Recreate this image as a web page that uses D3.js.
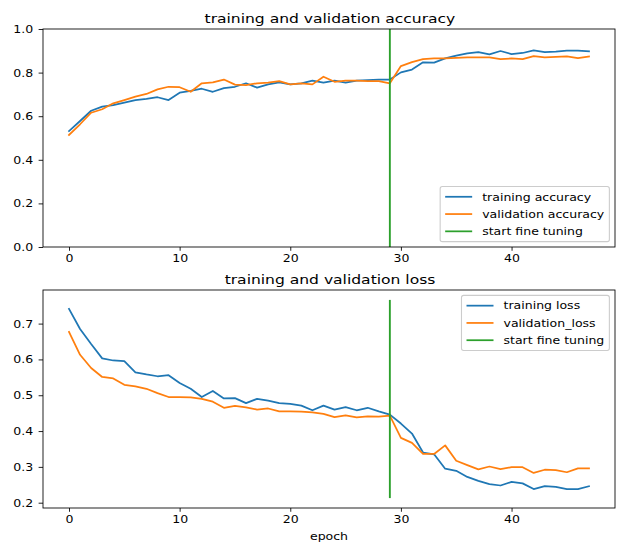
<!DOCTYPE html>
<html>
<head>
<meta charset="utf-8">
<script src="https://cdn.jsdelivr.net/npm/d3@7"></script>
<style>
  html, body { margin: 0; padding: 0; background: #fff; }
  svg { display: block; font-family: "DejaVu Sans", sans-serif; }
  svg text { transform-box: fill-box; }
  .sx-c { transform-origin: center; transform: scaleX(1.16); }
  .sx-r { transform-origin: right center; transform: scaleX(1.16); }
  .sx-l { transform-origin: left center; transform: scaleX(1.16); }
  .sx-t { transform-origin: center; transform: scaleX(1.2); }
</style>
</head>
<body>
<svg id="chart" width="619" height="544"></svg>
<script>
// ---------------- data ----------------
const epochs = d3.range(0, 48);
const accuracy = [0.532, 0.578, 0.625, 0.644, 0.651, 0.662, 0.674, 0.679, 0.687, 0.674,
  0.708, 0.716, 0.726, 0.712, 0.729, 0.735, 0.751, 0.731, 0.746, 0.755,
  0.746, 0.751, 0.763, 0.754, 0.763, 0.754, 0.763, 0.765, 0.768, 0.768,
  0.801, 0.814, 0.847, 0.846, 0.865, 0.878, 0.888, 0.894, 0.884, 0.899,
  0.885, 0.890, 0.902, 0.894, 0.896, 0.901, 0.901, 0.898];
const valAccuracy = [0.514, 0.563, 0.616, 0.632, 0.659, 0.674, 0.690, 0.702, 0.723, 0.735,
  0.733, 0.712, 0.751, 0.755, 0.768, 0.745, 0.743, 0.751, 0.754, 0.761,
  0.746, 0.751, 0.746, 0.781, 0.758, 0.763, 0.763, 0.761, 0.761, 0.751,
  0.830, 0.848, 0.862, 0.865, 0.865, 0.868, 0.870, 0.870, 0.870, 0.862,
  0.865, 0.862, 0.876, 0.870, 0.872, 0.874, 0.866, 0.874];
const loss = [0.741, 0.685, 0.643, 0.603, 0.597, 0.595, 0.564, 0.558, 0.553, 0.556,
  0.534, 0.518, 0.495, 0.512, 0.491, 0.492, 0.478, 0.490, 0.485, 0.478,
  0.476, 0.471, 0.458, 0.471, 0.460, 0.467, 0.458, 0.465, 0.455, 0.446,
  0.421, 0.393, 0.340, 0.335, 0.295, 0.289, 0.272, 0.261, 0.252, 0.248,
  0.258, 0.254, 0.238, 0.246, 0.244, 0.238, 0.238, 0.246];
const valLoss = [0.677, 0.613, 0.576, 0.551, 0.547, 0.529, 0.525, 0.518, 0.506, 0.495,
  0.495, 0.494, 0.490, 0.482, 0.465, 0.470, 0.466, 0.460, 0.463, 0.455,
  0.455, 0.454, 0.452, 0.448, 0.439, 0.444, 0.438, 0.441, 0.440, 0.443,
  0.381, 0.367, 0.336, 0.336, 0.360, 0.317, 0.305, 0.293, 0.301, 0.294,
  0.299, 0.299, 0.283, 0.292, 0.291, 0.285, 0.296, 0.296];
const fineTuneEpoch = 29;
const xTicks = [0, 10, 20, 30, 40];
const accTicks = [0.0, 0.2, 0.4, 0.6, 0.8, 1.0];
const lossTicks = [0.2, 0.3, 0.4, 0.5, 0.6, 0.7];
const accLabels = ["training accuracy", "validation accuracy", "start fine tuning"];
const lossLabels = ["training loss", "validation_loss", "start fine tuning"];
const titles = ["training and validation accuracy", "training and validation loss"];
const xLabel = "epoch";

// ---------------- layout ----------------
const C = { blue: "#1f77b4", orange: "#ff7f0e", green: "#2ca02c" };
const S = 1.08;             // px per point (vertical)
const SX = 1.16;            // horizontal stretch of the picture
const FS = 10 * S;          // base font
const LW = 1.75;            // data line width
const svg = d3.select("#chart");
const L = 43, R = 615;
const panels = [{ top: 29, bottom: 247 }, { top: 290, bottom: 508 }];

function margin(ext) { const d = (ext[1] - ext[0]) * 0.05; return [ext[0] - d, ext[1] + d]; }

const x = d3.scaleLinear().domain(margin(d3.extent(epochs))).range([L, R]);

const lossLine = margin(d3.extent(loss.concat(valLoss)));
const lossDomain = margin(lossLine);

const specs = [
  { p: panels[0], domain: [0, 1], vline: [0, 1], ticks: accTicks, fmt: d3.format(".1f"),
    series: [accuracy, valAccuracy], labels: accLabels, title: titles[0], legend: "lower right" },
  { p: panels[1], domain: lossDomain, vline: lossLine, ticks: lossTicks, fmt: d3.format(".1f"),
    series: [loss, valLoss], labels: lossLabels, title: titles[1], legend: "upper right" }
];

specs.forEach((sp, k) => {
  const y = d3.scaleLinear().domain(sp.domain).range([sp.p.bottom, sp.p.top]);
  const g = svg.append("g");

  const cid = "clip" + k;
  svg.append("clipPath").attr("id", cid).append("rect")
    .attr("x", L).attr("y", sp.p.top).attr("width", R - L).attr("height", sp.p.bottom - sp.p.top);

  const plot = g.append("g").attr("clip-path", `url(#${cid})`);
  const line = d3.line().x((d, i) => x(epochs[i])).y(d => y(d));
  [C.blue, C.orange].forEach((col, i) => {
    plot.append("path").datum(sp.series[i]).attr("d", line)
      .attr("fill", "none").attr("stroke", col).attr("stroke-width", LW)
      .attr("stroke-linejoin", "round").attr("stroke-linecap", "square");
  });
  plot.append("line")
    .attr("x1", x(fineTuneEpoch)).attr("x2", x(fineTuneEpoch))
    .attr("y1", y(sp.vline[0])).attr("y2", y(sp.vline[1]))
    .attr("stroke", C.green).attr("stroke-width", 1.5 * S * SX);

  const xa = g.append("g").attr("transform", `translate(0,${sp.p.bottom})`)
    .call(d3.axisBottom(x).tickValues(xTicks).tickFormat(d3.format("d")).tickSizeOuter(0).tickSize(3.5 * S).tickPadding(3.5 * S));
  const ya = g.append("g").attr("transform", `translate(${L},0)`)
    .call(d3.axisLeft(y).tickValues(sp.ticks).tickFormat(sp.fmt).tickSizeOuter(0).tickSize(3.5 * S * SX).tickPadding(3.5 * S * SX + 1));
  [xa, ya].forEach(a => {
    a.select(".domain").remove();
    a.selectAll("line").attr("stroke", "#000").attr("stroke-width", 0.8 * S);
    a.selectAll("text").attr("fill", "#000").attr("font-size", FS).attr("font-family", "DejaVu Sans");
  });
  xa.selectAll("text").attr("class", "sx-c");
  ya.selectAll("text").attr("class", "sx-r");

  g.append("rect").attr("x", L).attr("y", sp.p.top).attr("width", R - L).attr("height", sp.p.bottom - sp.p.top)
    .attr("fill", "none").attr("stroke", "#000").attr("stroke-width", 0.8 * S);

  g.append("text").attr("class", "sx-t").attr("x", (L + R) / 2 + 1).attr("y", sp.p.top - 6 * S)
    .attr("text-anchor", "middle").attr("font-size", 12 * S).attr("fill", "#000").text(sp.title);

  // legend
  const cols = [C.blue, C.orange, C.green];
  const lg = g.append("g");
  const frame = lg.append("rect");
  const items = lg.append("g");
  const tmp = items.selectAll("text.m").data(sp.labels).join("text").attr("font-size", FS).text(d => d);
  const tw = d3.max(tmp.nodes(), n => n.getComputedTextLength()) * SX;
  tmp.remove();
  const pad = 0.4 * FS, rowH = FS * 1.1, gap = 0.5 * FS, bap = 0.5 * FS;
  const padX = pad * SX, hl = 2 * FS * 1.25, hp = 0.8 * FS * SX, bapX = bap * SX * 0.9;
  const w = padX * 2 + hl + hp + tw;
  const h = pad * 2 + rowH * 3 + gap * 2;
  const bx = R - bapX - w;
  const by = sp.legend === "upper right" ? sp.p.top + bap : sp.p.bottom - bap - h;
  frame.attr("x", bx).attr("y", by).attr("width", w).attr("height", h)
    .attr("rx", 0.2 * FS).attr("fill", "#fff").attr("fill-opacity", 0.8)
    .attr("stroke", "#cccccc").attr("stroke-width", 1 * S);
  sp.labels.forEach((lab, i) => {
    const cy = by + pad + rowH / 2 + i * (rowH + gap);
    items.append("line").attr("x1", bx + padX).attr("x2", bx + padX + hl)
      .attr("y1", cy).attr("y2", cy).attr("stroke", cols[i]).attr("stroke-width", LW);
    items.append("text").attr("class", "sx-l").attr("x", bx + padX + hl + hp).attr("y", cy).attr("dy", "0.35em")
      .attr("font-size", FS).attr("fill", "#000").text(lab);
  });
});

svg.append("text").attr("class", "sx-c").attr("x", (L + R) / 2).attr("y", 540).attr("text-anchor", "middle")
  .attr("font-size", FS).attr("fill", "#000").text(xLabel);
</script>
</body>
</html>
